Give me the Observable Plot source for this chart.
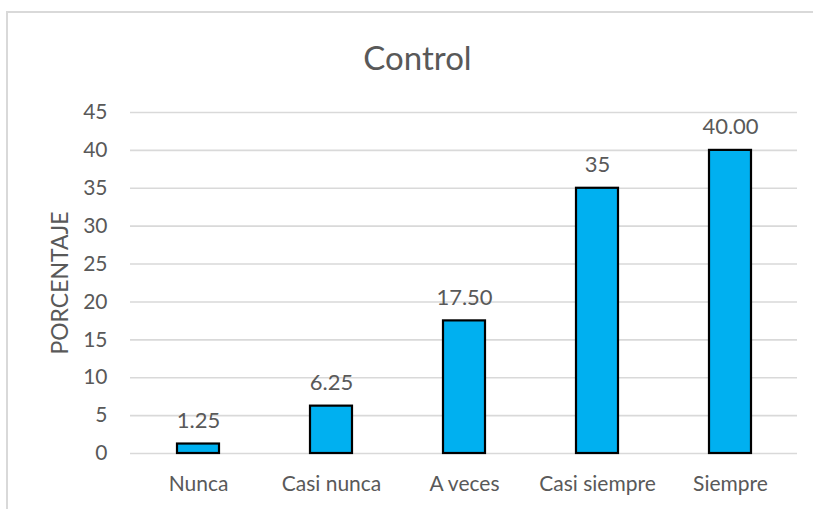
<!DOCTYPE html>
<html>
<head>
<meta charset="utf-8">
<script src="https://cdn.jsdelivr.net/npm/d3@7"></script>
<script src="https://cdn.jsdelivr.net/npm/@observablehq/plot@0.6"></script>
<style>
  html, body { margin: 0; padding: 0; background: #fff; overflow: hidden; }
  #frame { position: absolute; left: 6px; top: 11px; width: 830px; height: 520px;
           border-left: 2px solid #d9d9d9; border-top: 2px solid #d9d9d9; box-sizing: border-box; }
  #title { position: absolute; left: 0; top: 37px; width: 835px; text-align: center;
           font-family: Lato, "Open Sans", sans-serif; font-size: 33px; color: #595959; line-height: 40px; }
  #chart { position: absolute; left: 0; top: 80px; }
</style>
</head>
<body>
<div id="frame"></div>
<div id="title">Control</div>
<div id="chart"></div>
<script>
const categories = ["Nunca", "Casi nunca", "A veces", "Casi siempre", "Siempre"];
const values = [1.25, 6.25, 17.5, 35, 40];
const valueLabels = ["1.25", "6.25", "17.50", "35", "40.00"];
const yTicks = [0, 5, 10, 15, 20, 25, 30, 35, 40, 45];

const data = categories.map((c, i) => ({cat: c, v: values[i], lab: valueLabels[i]}));
const font = "Lato, 'Open Sans', sans-serif";
const textColor = "#595959";

const plot = Plot.plot({
  width: 813,
  height: 425,
  marginLeft: 130,
  marginRight: 16,
  marginTop: 32,
  marginBottom: 52,
  style: {fontFamily: font, fontSize: "21px", color: textColor, background: "transparent"},
  x: {domain: categories, paddingInner: 0.685, paddingOuter: 0.3425, label: null},
  y: {domain: [0, 45], ticks: yTicks, label: null},
  marks: [
    Plot.gridY(yTicks, {stroke: "#d9d9d9", strokeOpacity: 1, strokeWidth: 1.6}),
    Plot.axisY(yTicks, {tickSize: 0, tickPadding: 23, fill: textColor, fontSize: 21}),
    Plot.axisX({tickSize: 0, tickPadding: 23, fill: textColor, fontSize: 21}),
    Plot.barY(data, {x: "cat", y: "v", fill: "#00B0F0", stroke: "#000", strokeWidth: 2.2}),
    Plot.text(data, {x: "cat", y: "v", text: "lab", lineAnchor: "bottom", dy: -16, fill: textColor, fontSize: 22}),
    Plot.text(["PORCENTAJE"], {frameAnchor: "left", textAnchor: "middle", dx: -70, rotate: -90, fill: textColor, fontSize: 23})
  ]
});
document.getElementById("chart").appendChild(plot);
</script>
</body>
</html>
